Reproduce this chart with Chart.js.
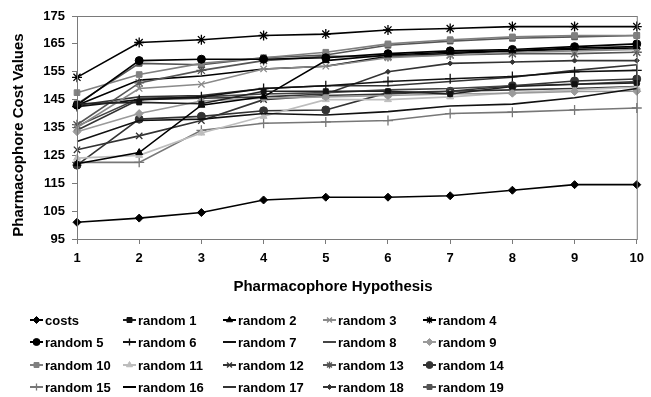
<!DOCTYPE html>
<html>
<head>
<meta charset="utf-8">
<script src="https://cdn.jsdelivr.net/npm/chart.js@4.4.0/dist/chart.umd.min.js"></script>
<style>
  html, body { margin: 0; padding: 0; background: #fff; }
</style>
</head>
<body>
<canvas id="cost-chart" width="651" height="397"></canvas>
<script>
// ── Data ──

var HYPOTHESES = ['1', '2', '3', '4', '5', '6', '7', '8', '9', '10'];

var COSTS     = [101, 102.5, 104.5, 109, 110, 110, 110.5, 112.5, 114.5, 114.5];
var RANDOM_1  = [143.5, 144, 143.5, 148, 148, 148, 147, 149.7, 150.5, 151];
var RANDOM_2  = [122, 126, 143, 146, 159, 161, 162, 162.5, 163.5, 164];
var RANDOM_3  = [135, 149, 150.5, 156, 157, 160, 161, 162, 162.5, 163];
var RANDOM_4  = [153, 165.5, 166.5, 168, 168.5, 170, 170.5, 171.2, 171.2, 171.2];
var RANDOM_5  = [143, 159, 159.5, 159.5, 160, 161.5, 162.5, 163, 164, 165];
var RANDOM_6  = [142.5, 145, 146, 149, 150, 151.5, 152.5, 153.3, 155, 155.5];
var RANDOM_7  = [130, 137.5, 138, 140, 139.5, 140.7, 142.7, 143.4, 145.7, 149];
var RANDOM_8  = [135.5, 145.5, 146, 147, 147.5, 148.5, 149, 150, 150.5, 151.5];
var RANDOM_9  = [133.5, 140, 144.5, 145.5, 146, 146.5, 147, 147.3, 147.9, 148];
var RANDOM_10 = [147.5, 154, 158, 160, 162, 165, 166.5, 167.5, 168, 168];
var RANDOM_11 = [124, 125, 133, 139, 145, 145, 146, 147.5, 148.5, 149.5];
var RANDOM_12 = [127, 132, 137.5, 145, 146.5, 147, 148, 148.5, 149, 149.7];
var RANDOM_13 = [136, 151, 155.5, 159, 160.5, 160.5, 161, 161.5, 161.5, 162];
var RANDOM_14 = [121.5, 138, 139, 141, 141.3, 147.5, 148, 150, 151.7, 152.4];
var RANDOM_15 = [122.5, 122.5, 134, 136.5, 137, 137.5, 140, 140.5, 141.3, 142];
var RANDOM_16 = [143, 152, 153.5, 156, 157, 160.5, 161.5, 162.5, 163, 163.5];
var RANDOM_17 = [143, 146, 146.5, 149, 150, 150, 151.5, 153, 155.5, 157.5];
var RANDOM_18 = [134, 145, 145.5, 146, 147, 155, 158, 158.5, 159, 159];
var RANDOM_19 = [143.5, 158, 157.5, 160, 161, 164.5, 166, 167, 167.5, 168];

var Y_MIN = 95;
var Y_MAX = 175;
var Y_STEP = 10;

var FONT = '"Liberation Sans", Arial, Helvetica, sans-serif';

// name, values, line colour, marker colour, marker, marker radius
var SERIES = [
  ['costs',     COSTS,     '#000000', '#000000', 'rectRot',  4],
  ['random 1',  RANDOM_1,  '#222222', '#111111', 'rect',     3.5],
  ['random 2',  RANDOM_2,  '#000000', '#000000', 'triangle', 4],
  ['random 3',  RANDOM_3,  '#8a8a8a', '#8a8a8a', 'crossRot', 4.5],
  ['random 4',  RANDOM_4,  '#000000', '#000000', 'star',     5],
  ['random 5',  RANDOM_5,  '#000000', '#000000', 'circle',   4],
  ['random 6',  RANDOM_6,  '#111111', '#111111', 'cross',    5],
  ['random 7',  RANDOM_7,  '#111111', '#111111', false,      0],
  ['random 8',  RANDOM_8,  '#444444', '#444444', false,      0],
  ['random 9',  RANDOM_9,  '#9a9a9a', '#9a9a9a', 'rectRot',  4],
  ['random 10', RANDOM_10, '#808080', '#808080', 'rect',     4],
  ['random 11', RANDOM_11, '#bdbdbd', '#bdbdbd', 'triangle', 4],
  ['random 12', RANDOM_12, '#333333', '#333333', 'crossRot', 4.5],
  ['random 13', RANDOM_13, '#555555', '#555555', 'star',     5],
  ['random 14', RANDOM_14, '#333333', '#333333', 'circle',   4],
  ['random 15', RANDOM_15, '#777777', '#777777', 'cross',    5],
  ['random 16', RANDOM_16, '#000000', '#000000', false,      0],
  ['random 17', RANDOM_17, '#333333', '#333333', false,      0],
  ['random 18', RANDOM_18, '#333333', '#333333', 'rectRot',  2.5],
  ['random 19', RANDOM_19, '#555555', '#555555', 'rect',     4]
];

// legend grid: 5 columns x 4 rows
var LEGEND_COL_X = [30, 123, 223, 323, 423];
var LEGEND_ROW_Y = [320, 342, 365, 387];

// ── Chart ──

function buildDatasets() {
  return SERIES.map(function (s) {
    return {
      label: s[0],
      data: s[1],
      borderColor: s[2],
      backgroundColor: s[3],
      pointBackgroundColor: s[3],
      pointBorderColor: s[3],
      pointStyle: s[4] || 'circle',
      pointRadius: s[5],
      pointBorderWidth: (s[4] === 'cross' || s[4] === 'crossRot' || s[4] === 'star') ? 1.3 : 1,
      pointHoverRadius: s[5],
      borderWidth: 1.6,
      tension: 0,
      fill: false
    };
  });
}

var framePlugin = {
  // grey box round the plot area, axis titles and the grid legend
  id: 'frameAndLegend',
  afterDraw: function (chart) {
    var ctx = chart.ctx;
    var area = chart.chartArea;

    ctx.save();
    ctx.strokeStyle = '#7a7a7a';
    ctx.lineWidth = 1;
    ctx.strokeRect(area.left + 0.5, area.top + 0.5, area.right - area.left, area.bottom - area.top);

    ctx.fillStyle = '#000';
    ctx.font = 'bold 15px ' + FONT;
    ctx.textAlign = 'center';
    ctx.textBaseline = 'middle';
    ctx.fillText('Pharmacophore Hypothesis', 333, 287);

    ctx.save();
    ctx.translate(19, 135);
    ctx.rotate(-Math.PI / 2);
    ctx.fillText('Pharmacophore Cost Values', 0, 0);
    ctx.restore();

    ctx.font = 'bold 13px ' + FONT;
    ctx.textAlign = 'left';
    for (var i = 0; i < chart.data.datasets.length; i++) {
      var ds = chart.data.datasets[i];
      var x = LEGEND_COL_X[i % 5];
      var y = LEGEND_ROW_Y[Math.floor(i / 5)];

      ctx.strokeStyle = ds.borderColor;
      ctx.lineWidth = 2;
      ctx.beginPath();
      ctx.moveTo(x, y);
      ctx.lineTo(x + 13, y);
      ctx.stroke();

      if (ds.pointRadius > 0) {
        ctx.fillStyle = ds.pointBackgroundColor;
        ctx.strokeStyle = ds.pointBorderColor;
        ctx.lineWidth = ds.pointBorderWidth;
        Chart.helpers.drawPoint(ctx, {
          pointStyle: ds.pointStyle,
          radius: Math.min(ds.pointRadius, 3.5),
          rotation: 0,
          borderWidth: ds.pointBorderWidth
        }, x + 6.5, y);
      }

      ctx.fillStyle = '#000';
      ctx.fillText(ds.label, x + 15, y + 1);
    }
    ctx.restore();
  }
};

new Chart(document.getElementById('cost-chart').getContext('2d'), {
  type: 'line',
  data: { labels: HYPOTHESES, datasets: buildDatasets() },
  options: {
    responsive: false,
    animation: false,
    layout: { padding: { left: 0, top: 16, right: 9, bottom: 0 } },
    plugins: {
      legend: { display: false },
      tooltip: { enabled: false }
    },
    scales: {
      x: {
        offset: false,
        grid: { display: true, drawOnChartArea: false, drawTicks: true, tickLength: 5, color: '#7a7a7a' },
        border: { color: '#7a7a7a' },
        ticks: { color: '#000', padding: 7, maxRotation: 0, font: { family: FONT, size: 13, weight: 'bold' } },
        afterFit: function (scale) { scale.height = 158; }
      },
      y: {
        min: Y_MIN,
        max: Y_MAX,
        grid: { display: true, drawOnChartArea: false, drawTicks: true, tickLength: 5, color: '#7a7a7a' },
        border: { color: '#7a7a7a' },
        ticks: { stepSize: Y_STEP, color: '#000', padding: 7, font: { family: FONT, size: 13, weight: 'bold' } },
        afterFit: function (scale) { scale.width = 77; }
      }
    }
  },
  plugins: [framePlugin]
});
</script>
</body>
</html>
